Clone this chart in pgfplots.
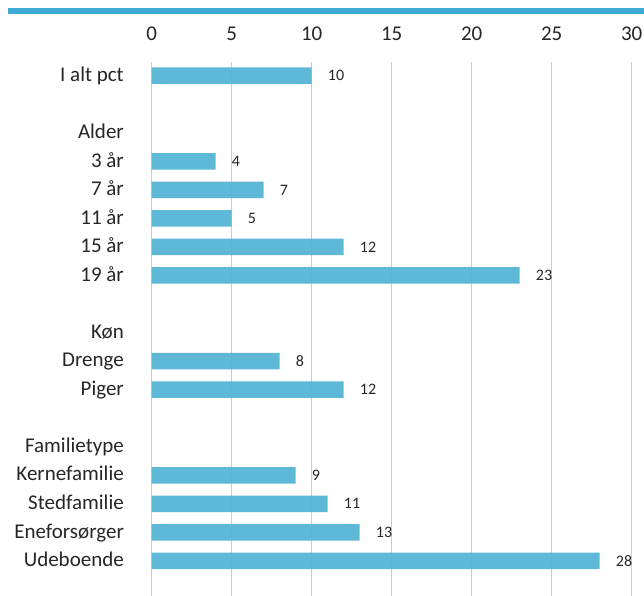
\documentclass[border=0pt]{standalone}
\usepackage{pgfplots}
\pgfplotsset{compat=1.18}
\usepackage{fontspec}
\setmainfont{Carlito}
\definecolor{barblue}{RGB}{85,181,214}
\definecolor{topblue}{RGB}{64,170,214}
\definecolor{txt}{RGB}{38,38,38}
\begin{document}
\begin{tikzpicture}
\path[use as bounding box] (0,0) rectangle (644bp,596bp);
\draw[topblue, line width=6bp] (8bp,585bp) -- (644bp,585bp);
\begin{axis}[
  at={(151.7bp,0bp)}, anchor=south west,
  scale only axis, width=480bp, height=534bp,
  xbar, bar width=16.5bp,
  xmin=0, xmax=30,
  ymin=-0.48, ymax=18.23, y dir=reverse,
  xtick={0,5,...,30},
  xticklabel pos=upper,
  ytick={0,...,17},
  yticklabels={I alt pct,,Alder,3 år,7 år,11 år,15 år,19 år,,Køn,Drenge,Piger,,Familietype,Kernefamilie,Stedfamilie,Eneforsørger,Udeboende},
  major tick length=0pt,
  axis line style={draw=none},
  xmajorgrids,
  grid style={color=black!20, line width=1bp},
  /pgf/number format/assume math mode=true,
  xticklabel style={font=\fontsize{21bp}{25bp}\selectfont, text=txt, anchor=center, inner sep=0pt, yshift=28.5bp},
  yticklabel style={font=\fontsize{21bp}{25bp}\selectfont, text=txt, anchor=base east, inner sep=0pt, xshift=-27.7bp, yshift=-5.7bp},
  nodes near coords,
  every node near coord/.append style={font=\fontsize{16bp}{19bp}\selectfont, text=txt, anchor=west, inner sep=0pt, xshift=16bp},
  clip=false,
]
\addplot[fill=barblue, draw=none, fill opacity=0.95, text opacity=1] coordinates {
(10,0) (4,3) (7,4) (5,5) (12,6) (23,7) (8,10) (12,11) (9,14) (11,15) (13,16) (28,17)};
\end{axis}
\end{tikzpicture}
\end{document}
